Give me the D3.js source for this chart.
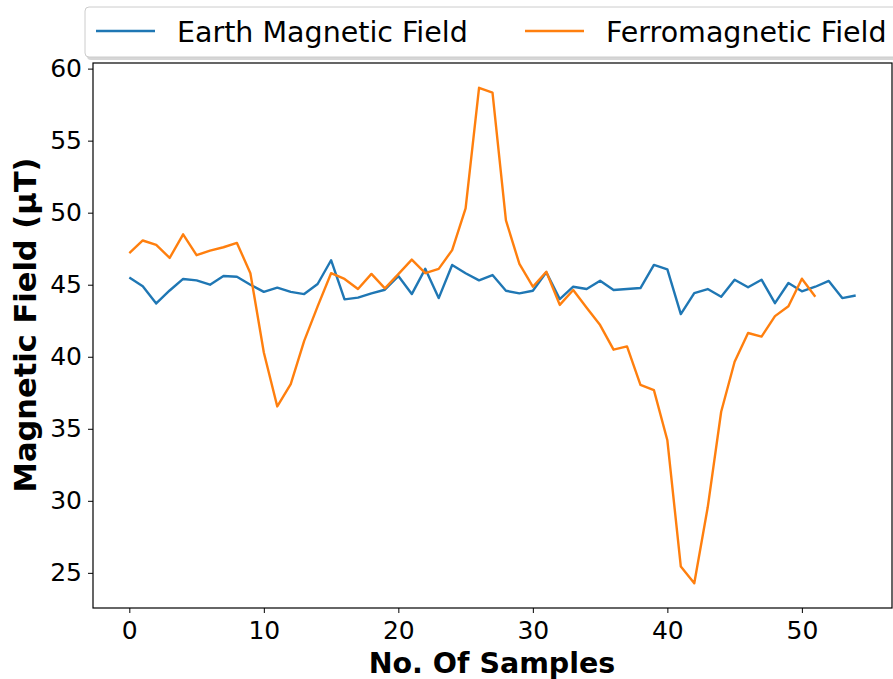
<!DOCTYPE html>
<html>
<head>
<meta charset="utf-8">
<script src="https://cdn.jsdelivr.net/npm/d3@7"></script>
<style>
  body { margin: 0; background: #fff; }
  svg { display: block; font-family: "DejaVu Sans", sans-serif; }
</style>
</head>
<body>
<svg class="chart"></svg>
<script>
// values
let earth = [45.5, 44.9, 43.7, 44.6, 45.4, 45.3, 45.0, 45.6, 45.55, 45.0,
  44.5, 44.8, 44.5, 44.35, 45.05, 46.7, 43.98, 44.1, 44.4, 44.65,
  45.6, 44.35, 46.1, 44.07, 46.37, 45.8, 45.3, 45.67, 44.58, 44.4,
  44.58, 45.86, 44.0, 44.86, 44.7, 45.28, 44.63, 44.7, 44.77, 46.37,
  46.07, 42.96, 44.42, 44.7, 44.16, 45.35, 44.82, 45.35, 43.72, 45.12,
  44.54, 44.86, 45.26, 44.07, 44.25];
let ferro = [47.2, 48.07, 47.77, 46.86, 48.5, 47.05, 47.37, 47.6, 47.9, 45.8,
  40.3, 36.55, 38.1, 41.1, 43.5, 45.8, 45.4, 44.7, 45.75, 44.75,
  45.74, 46.74, 45.8, 46.1, 47.4, 50.3, 58.67, 58.34, 49.46, 46.44,
  44.86, 45.9, 43.6, 44.63, 43.4, 42.2, 40.49, 40.72, 38.05, 37.68,
  34.2, 25.44, 24.28, 29.55, 36.18, 39.65, 41.65, 41.4, 42.82, 43.51,
  45.42, 44.16];
let seriesNames = ["Earth Magnetic Field", "Ferromagnetic Field"];
let seriesColors = ["#1f77b4", "#ff7f0e"];
let xTicks = [0, 10, 20, 30, 40, 50];
let yTicks = [25, 30, 35, 40, 45, 50, 55, 60];

let width = 893, height = 679;
let svg = d3.select(".chart").attr("width", width).attr("height", height);

let plotL = 93, plotR = 892, plotT = 63, plotB = 608;

// matplotlib style 5% margins
let xMax = earth.length - 1;
let allVals = earth.concat(ferro);
let yMin = d3.min(allVals), yMax = d3.max(allVals);
let yPad = (yMax - yMin) * 0.05;

let x = d3.scaleLinear().domain([-xMax * 0.05, xMax * 1.05]).range([plotL, plotR]);
let y = d3.scaleLinear().domain([yMin - yPad, yMax + yPad]).range([plotB, plotT]);

// frame
svg.append("rect")
  .attr("x", plotL).attr("y", plotT)
  .attr("width", plotR - plotL).attr("height", plotB - plotT)
  .attr("fill", "none").attr("stroke", "#000").attr("stroke-width", 1.2);

let xAxis = svg.append("g")
  .attr("transform", "translate(0," + plotB + ")")
  .call(d3.axisBottom(x).tickValues(xTicks).tickSize(5).tickPadding(8));
let yAxis = svg.append("g")
  .attr("transform", "translate(" + plotL + ",0)")
  .call(d3.axisLeft(y).tickValues(yTicks).tickSize(5).tickPadding(6));

[xAxis, yAxis].forEach(function(g) {
  g.select(".domain").remove();
  g.selectAll("text").attr("font-size", 25).attr("fill", "#000")
    .attr("font-family", "DejaVu Sans");
  g.selectAll("line").attr("stroke", "#000");
});

let line = d3.line()
  .x(function(d, i) { return x(i); })
  .y(function(d) { return y(d); });

[earth, ferro].forEach(function(s, k) {
  svg.append("path")
    .datum(s)
    .attr("d", line)
    .attr("fill", "none")
    .attr("stroke", seriesColors[k])
    .attr("stroke-width", 2.4)
    .attr("stroke-linejoin", "round");
});

// axis titles
svg.append("text")
  .attr("x", 492).attr("y", 673)
  .attr("text-anchor", "middle")
  .attr("font-size", 28.5).attr("font-weight", "bold")
  .text("No. Of Samples");
svg.append("text")
  .attr("transform", "translate(36,325) rotate(-90)")
  .attr("text-anchor", "middle")
  .attr("font-size", 30.5).attr("font-weight", "bold")
  .text("Magnetic Field (\u03bcT)");

// legend
let lg = svg.append("g");
lg.append("rect")
  .attr("x", 87).attr("y", 9).attr("width", 820).attr("height", 51)
  .attr("rx", 4).attr("fill", "#bbb").attr("opacity", 0.6);
lg.append("rect")
  .attr("x", 85).attr("y", 7).attr("width", 820).attr("height", 50)
  .attr("rx", 4).attr("fill", "#fff").attr("stroke", "#ccc").attr("stroke-width", 1);
let legX = [96, 525];
seriesNames.forEach(function(n, k) {
  lg.append("line")
    .attr("x1", legX[k]).attr("x2", legX[k] + 59)
    .attr("y1", 31).attr("y2", 31)
    .attr("stroke", seriesColors[k]).attr("stroke-width", 2.4);
  lg.append("text")
    .attr("x", legX[k] + 81).attr("y", 41.5)
    .attr("font-size", 28.5)
    .text(n);
});
</script>
</body>
</html>
